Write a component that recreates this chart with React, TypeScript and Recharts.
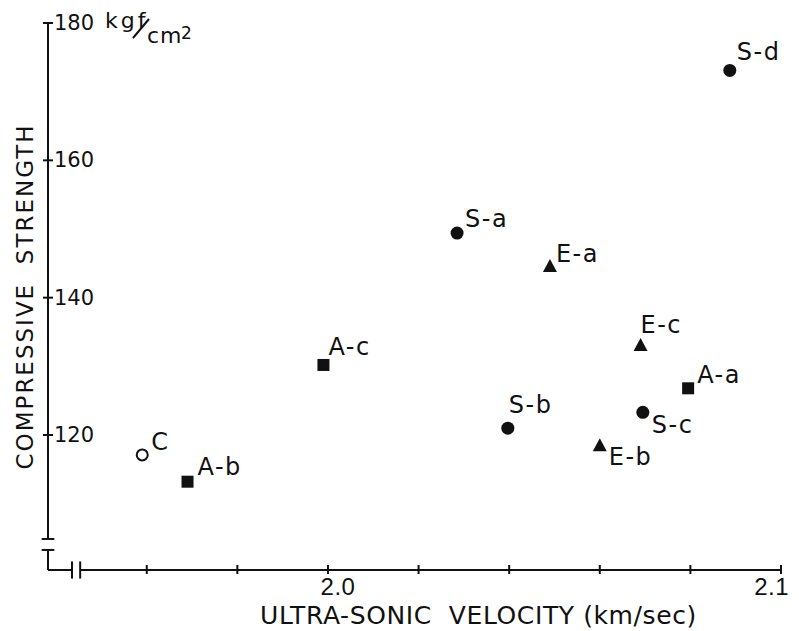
import { ScatterChart, Scatter, XAxis, YAxis, ReferenceLine, Label } from 'recharts'

const specimens = ['C', 'A-a', 'A-b', 'A-c', 'S-a', 'S-b', 'S-c', 'S-d', 'E-a', 'E-b', 'E-c']
const velocity = [1.959, 2.0795, 1.969, 1.999, 2.0285, 2.0397, 2.0695, 2.0887, 2.049, 2.06, 2.069]
const strength = [117.1, 126.8, 113.2, 130.2, 149.4, 121.0, 123.3, 173.1, 144.6, 118.5, 133.1]

const xTicks = [1.96, 1.98, 2.0, 2.02, 2.04, 2.06, 2.08, 2.1]
const xTickLabels = ['', '', '2.0', '', '', '', '', '2.1']
const yTicks = [120, 140, 160, 180]
const yTickLabels = ['120', '140', '160', '180']

// axis range, with the broken part near the origin
const X_MIN = 1.9382
const X_MAX = 2.1
const Y_MIN = 100.34
const Y_MAX = 180
const BREAK_X = [1.9435, 1.9453]
const BREAK_Y = [104.86, 103.26]
const CAP_X = 0.0014
const CAP_Y = 1.25

const INK = '#111'
const FONT = '"DejaVu Sans", sans-serif'
const NUM_FONT = '"Liberation Sans", Arial, sans-serif'

// where each point's name sits relative to its marker
const labelOffset: Record<string, [number, number]> = {
  'C': [9, -5],
  'A-a': [9, -5],
  'A-b': [10, -7],
  'A-c': [5, -10],
  'S-a': [8, -6],
  'S-b': [1, -15],
  'S-c': [9, 21],
  'S-d': [7, -10],
  'E-a': [6, -4],
  'E-b': [9, 20],
  'E-c': [0, -12],
}

const rows = specimens.map((name, i) => ({ name, v: velocity[i], s: strength[i] }))

const groups = [
  { key: 'C', kind: 'open' },
  { key: 'A', kind: 'square' },
  { key: 'S', kind: 'circle' },
  { key: 'E', kind: 'triangle' },
]

function Marker(props: any) {
  const { cx, cy, payload, kind } = props
  const [dx, dy] = labelOffset[payload.name] || [8, -6]
  let mark
  if (kind === 'circle') mark = <circle cx={cx} cy={cy} r={6.5} fill={INK} />
  else if (kind === 'open') mark = <circle cx={cx} cy={cy} r={5.5} fill="#fff" stroke={INK} strokeWidth={2} />
  else if (kind === 'square') mark = <rect x={cx - 6} y={cy - 6} width={12} height={12} fill={INK} />
  else mark = <polygon points={`${cx},${cy - 7} ${cx + 7},${cy + 6} ${cx - 7},${cy + 6}`} fill={INK} />
  return (
    <g>
      {mark}
      <text x={cx + dx} y={cy + dy} fontFamily={FONT} fontSize={24} letterSpacing={1.5} fill={INK}>
        {payload.name}
      </text>
    </g>
  )
}

function XTick(props: any) {
  const { x, y, index } = props
  const last = index === xTicks.length - 1
  return (
    <g>
      <line x1={x} x2={x} y1={y - 5} y2={y + 4} stroke={INK} strokeWidth={2} />
      <text
        x={last ? x + 8 : x + 10}
        y={y + 25}
        textAnchor={last ? 'end' : 'middle'}
        fontFamily={NUM_FONT}
        fontSize={24}
        letterSpacing={0.5}
        fill={INK}
      >
        {xTickLabels[index]}
      </text>
    </g>
  )
}

function YTick(props: any) {
  const { x, y, index } = props
  return (
    <g>
      <line x1={x - 5} x2={x + 5} y1={y} y2={y} stroke={INK} strokeWidth={2} />
      <text x={x + 6} y={y + 7} fontFamily={FONT} fontSize={21} fill={INK}>
        {yTickLabels[index]}
      </text>
      {index === yTicks.length - 1 && (
        <g fontFamily={FONT} fill={INK}>
          <text x={x + 57} y={y + 5} fontSize={22} letterSpacing={3}>kgf</text>
          <line x1={x + 85} y1={y + 15} x2={x + 101} y2={y - 4} stroke={INK} strokeWidth={2} />
          <text x={x + 99} y={y + 20} fontSize={22} letterSpacing={1}>cm</text>
          <text x={x + 133} y={y + 16} fontSize={17}>2</text>
        </g>
      )}
    </g>
  )
}

const seg = (x1: number, y1: number, x2: number, y2: number) => [
  { x: x1, y: y1 },
  { x: x2, y: y2 },
]

const axisSegments = [
  seg(X_MIN, Y_MAX, X_MIN, BREAK_Y[0]),
  seg(X_MIN, BREAK_Y[1], X_MIN, Y_MIN),
  seg(X_MIN - CAP_X, BREAK_Y[0], X_MIN + CAP_X, BREAK_Y[0]),
  seg(X_MIN - CAP_X, BREAK_Y[1], X_MIN + CAP_X, BREAK_Y[1]),
  seg(X_MIN, Y_MIN, BREAK_X[0], Y_MIN),
  seg(BREAK_X[1], Y_MIN, X_MAX, Y_MIN),
  seg(BREAK_X[0], Y_MIN - CAP_Y, BREAK_X[0], Y_MIN + CAP_Y),
  seg(BREAK_X[1], Y_MIN - CAP_Y, BREAK_X[1], Y_MIN + CAP_Y),
]

export default function App() {
  return (
    <div style={{ position: 'absolute', left: 0, top: 0, background: '#fff' }}>
      <ScatterChart width={799} height={631} margin={{ top: 23, right: 18, bottom: 53, left: 40 }}>
        <XAxis
          type="number"
          dataKey="v"
          domain={[X_MIN, X_MAX]}
          ticks={xTicks}
          interval={0}
          allowDataOverflow
          axisLine={false}
          tickLine={false}
          tickSize={0}
          tickMargin={0}
          height={8}
          tick={(p: any) => <XTick {...p} />}
        >
          <Label
            content={(p: any) => {
              const vb = p.viewBox
              return (
                <text
                  x={vb.x + vb.width / 2 + 64}
                  y={vb.y + 54}
                  textAnchor="middle"
                  fontFamily={FONT}
                  fontSize={25}
                  letterSpacing={0.6}
                  fill={INK}
                  style={{ whiteSpace: 'pre' }}
                >
                  {'ULTRA-SONIC  VELOCITY (km/sec)'}
                </text>
              )
            }}
          />
        </XAxis>
        <YAxis
          type="number"
          dataKey="s"
          domain={[Y_MIN, Y_MAX]}
          ticks={yTicks}
          interval={0}
          allowDataOverflow
          axisLine={false}
          tickLine={false}
          tickSize={0}
          tickMargin={0}
          width={8}
          tick={(p: any) => <YTick {...p} />}
        >
          <Label
            content={(p: any) => {
              const vb = p.viewBox
              const cx = vb.x + vb.width - 15
              const cy = vb.y + vb.height / 2
              return (
                <text
                  x={cx}
                  y={cy}
                  transform={`rotate(-90 ${cx} ${cy})`}
                  textAnchor="middle"
                  fontFamily={FONT}
                  fontSize={23}
                  letterSpacing={2}
                  fill={INK}
                  style={{ whiteSpace: 'pre' }}
                >
                  {'COMPRESSIVE  STRENGTH'}
                </text>
              )
            }}
          />
        </YAxis>
        {axisSegments.map((s, i) => (
          <ReferenceLine key={i} segment={s} ifOverflow="visible" stroke={INK} strokeWidth={2} />
        ))}
        {groups.map((g) => (
          <Scatter
            key={g.key}
            data={rows.filter((r) => r.name[0] === g.key)}
            isAnimationActive={false}
            shape={(p: any) => <Marker {...p} kind={g.kind} />}
          />
        ))}
      </ScatterChart>
    </div>
  )
}
